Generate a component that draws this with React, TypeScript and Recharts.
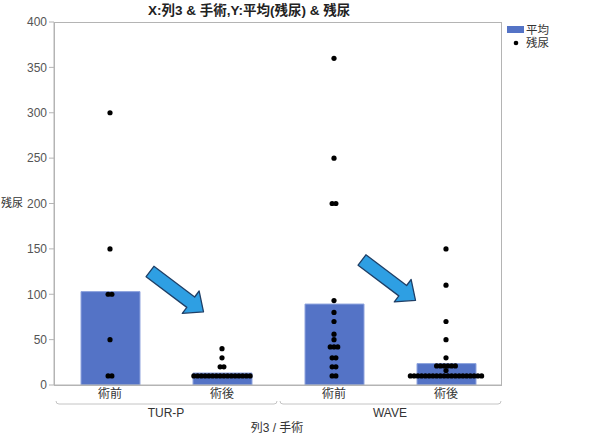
import React from 'react';
import { ComposedChart, Bar, Scatter, XAxis, YAxis } from 'recharts';

const categories = ['術前', '術後', '術前', '術後'];
const groups = ['TUR-P', 'TUR-P', 'WAVE', 'WAVE'];
const meanValues = [102.9, 13.2, 89.2, 23.6];
const yTicks = [0, 50, 100, 150, 200, 250, 300, 350, 400];

const turpPre = [300, 150, 100, 100, 50, 10, 10];
const turpPost = [40, 30, 20, 20, 10, 10, 10, 10, 10, 10, 10, 10, 10, 10, 10, 10, 10, 10, 10, 10];
const wavePre = [360, 250, 200, 200, 93, 80, 70, 56, 50, 42, 42, 42, 30, 30, 20, 20, 10, 10];
const wavePost = [
  150, 110, 70, 50, 30, 21, 21, 21, 21, 21, 21, 16,
  10, 10, 10, 10, 10, 10, 10, 10, 10, 10, 10, 10, 10, 10, 10, 10, 10, 10, 10, 10,
];
const residuals = [turpPre, turpPost, wavePre, wavePost];

const W = 596;
const H = 441;
const M = { top: 22, right: 94, bottom: 0, left: 0 };
const Y_W = 54;
const X_H = 56;
const PLOT_W = W - M.left - M.right - Y_W;
const BAND = PLOT_W / categories.length;
const DOT_STEP = 3.75;

const FONT = '"Liberation Sans", "Noto Sans CJK JP", sans-serif';
const BAR_COLOR = '#5473C6';
const AXIS_COLOR = '#b4b4b4';

const barData = categories.map((c, i) => ({ key: groups[i] + ' ' + c, mean: meanValues[i] }));

// lay out equal values side by side, like a beeswarm
const dots = residuals.flatMap((vals, ci) => {
  const counts: Record<number, number> = {};
  vals.forEach((v) => (counts[v] = (counts[v] || 0) + 1));
  const seen: Record<number, number> = {};
  return vals.map((v) => {
    const k = seen[v] || 0;
    seen[v] = k + 1;
    return { x: ci, y: v, dx: (k - (counts[v] - 1) / 2) * DOT_STEP };
  });
});

const renderDot = (p: any) => (
  <circle cx={p.cx + (p.payload?.dx ?? 0)} cy={p.cy} r={2.6} fill="#000" />
);

const CatTick = (p: any) => {
  const { x, y, index } = p;
  const first = index % 2 === 0;
  const left = x - BAND / 2 + 2;
  const right = x + BAND * 1.5 - 1;
  const by = y + 16;
  return (
    <g>
      <text x={x} y={y} dy="0.8em" textAnchor="middle" fontSize={12} fill="#333" fontFamily={FONT}>
        {categories[index]}
      </text>
      {first && (
        <g>
          <path
            d={`M${left},${by - 3} Q${left},${by} ${left + 3},${by} L${right - 3},${by} Q${right},${by} ${right},${by - 3}`}
            fill="none"
            stroke="#c4c4c4"
          />
          <text x={x + BAND / 2} y={by + 13} textAnchor="middle" fontSize={12} fill="#333" fontFamily={FONT}>
            {groups[index]}
          </text>
        </g>
      )}
    </g>
  );
};

const Arrow = ({ x, y }: { x: number; y: number }) => (
  <g transform={`translate(${x},${y}) rotate(37)`}>
    <polygon
      points="0,-6.5 51,-6.5 51,-14 67,0 51,14 51,6.5 0,6.5"
      fill="#2E9FE3"
      stroke="#1F3F66"
      strokeWidth={1.3}
      strokeLinejoin="round"
    />
  </g>
);

export default function App() {
  const plotLeft = M.left + Y_W;
  const plotTop = M.top;
  const plotH = H - M.top - M.bottom - X_H;
  return (
    <div style={{ position: 'absolute', left: 0, top: 0, width: W, height: H, background: '#fff' }}>
      <ComposedChart width={W} height={H} data={barData} margin={M}>
        <XAxis
          dataKey="key"
          height={X_H}
          interval={0}
          tickSize={0}
          tickMargin={3}
          tickLine={false}
          axisLine={{ stroke: AXIS_COLOR }}
          tick={<CatTick />}
          label={{
            content: () => (
              <text x={277} y={432} textAnchor="middle" fontSize={12} fill="#333" fontFamily={FONT}>
                列3 / 手術
              </text>
            ),
          }}
        />
        <XAxis xAxisId="num" type="number" dataKey="x" domain={[-0.5, 3.5]} allowDataOverflow hide />
        <YAxis
          domain={[0, 400]}
          ticks={yTicks}
          width={Y_W}
          tickSize={5}
          tickMargin={2}
          axisLine={{ stroke: AXIS_COLOR }}
          tickLine={{ stroke: AXIS_COLOR }}
          tick={{ fontSize: 12, fill: '#555', fontFamily: FONT }}
          label={{
            content: () => (
              <text x={1} y={207} fontSize={11} fill="#333" fontFamily={FONT}>
                残尿
              </text>
            ),
          }}
        />
        <Bar dataKey="mean" fill={BAR_COLOR} stroke="#8FA4DE" strokeWidth={1} barSize={59} isAnimationActive={false} />
        <Scatter xAxisId="num" data={dots} dataKey="y" shape={renderDot} isAnimationActive={false} />
      </ComposedChart>
      <svg width={W} height={H} style={{ position: 'absolute', left: 0, top: 0, pointerEvents: 'none' }}>
        <rect x={plotLeft + 0.5} y={plotTop + 0.5} width={PLOT_W - 1} height={plotH} fill="none" stroke={AXIS_COLOR} />
        <text x={148} y={15} fontSize={13.5} fontWeight="bold" fill="#222" fontFamily={FONT}>
          X:列3 &amp; 手術,Y:平均(残尿) &amp; 残尿
        </text>
        <Arrow x={150} y={271.5} />
        <Arrow x={362} y={260} />
        <rect x={507} y={26} width={17} height={7} fill={BAR_COLOR} />
        <text x={526} y={34} fontSize={11.5} fill="#333" fontFamily={FONT}>平均</text>
        <circle cx={516} cy={43} r={2.3} fill="#000" />
        <text x={526} y={47} fontSize={11.5} fill="#333" fontFamily={FONT}>残尿</text>
      </svg>
    </div>
  );
}
